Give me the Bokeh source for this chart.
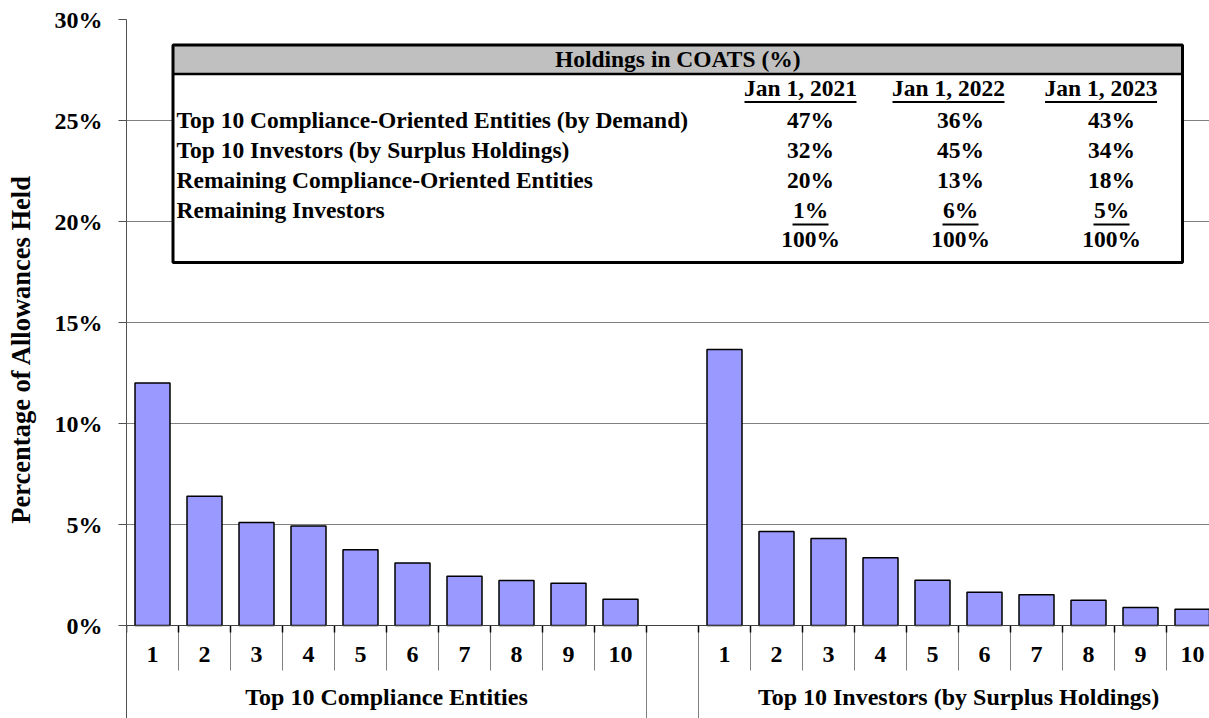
from bokeh.plotting import figure
from bokeh.models import Range1d, FixedTicker, PrintfTickFormatter, Span
from bokeh.core.properties import value
from bokeh.embed import file_html
from bokeh.resources import INLINE

# ---------------- data ----------------
compliance_labels = ["1", "2", "3", "4", "5", "6", "7", "8", "9", "10"]
compliance_values = [12.0, 6.4, 5.1, 4.93, 3.75, 3.1, 2.44, 2.23, 2.09, 1.3]
investor_labels = ["1", "2", "3", "4", "5", "6", "7", "8", "9", "10"]
investor_values = [13.66, 4.65, 4.31, 3.35, 2.24, 1.65, 1.52, 1.25, 0.89, 0.81]
group_names = ["Top 10 Compliance Entities", "Top 10 Investors (by Surplus Holdings)"]
y_ticks = [0, 5, 10, 15, 20, 25, 30]

table_title = "Holdings in COATS (%)"
table_rows = ["Top 10 Compliance-Oriented Entities (by Demand)",
              "Top 10 Investors (by Surplus Holdings)",
              "Remaining Compliance-Oriented Entities",
              "Remaining Investors"]
table_dates = ["Jan 1, 2021", "Jan 1, 2022", "Jan 1, 2023"]
holdings_2021 = [47, 32, 20, 1]
holdings_2022 = [36, 45, 13, 6]
holdings_2023 = [43, 34, 18, 5]

# ---------------- layout helpers (picture px -> data) ----------------
W, H = 1209, 718
X0_PX, SLOT_PX, Y0_PX, PCT_PX = 126.0, 52.0, 625.0, 20.2
TXT_DY = 9.5  # rendered alphabetic baseline sits this much lower than asked
def xd(px):
    return (px - X0_PX) / SLOT_PX
def yd(py):
    return (Y0_PX - py) / PCT_PX
def yt_(py):  # y for a text whose baseline should land at py
    return yd(py - TXT_DY)

FONT = value("Liberation Serif")
FS = "23.5px"

p = figure(width=W, height=H, output_backend="svg", toolbar_location=None,
           x_range=Range1d(0, xd(W)), y_range=Range1d(yd(H), yd(19)),
           min_border_left=int(X0_PX), min_border_right=0, min_border_top=19, min_border_bottom=0)
p.outline_line_color = None
p.background_fill_color = "white"
p.border_fill_color = "white"
p.xaxis.visible = False
p.xgrid.visible = False

yt = FixedTicker(ticks=y_ticks, minor_ticks=[])
p.yaxis.ticker = yt
p.yaxis.formatter = PrintfTickFormatter(format="%d%%")
p.yaxis.major_label_text_font = "Liberation Serif"
p.yaxis.major_label_text_font_style = "bold"
p.yaxis.major_label_text_font_size = "24px"
p.yaxis.major_label_text_color = "black"
p.yaxis.major_label_standoff = 16
p.yaxis.major_tick_out = 8
p.yaxis.major_tick_in = 0
p.yaxis.minor_tick_line_color = None
p.yaxis.axis_line_color = "#505050"
p.yaxis.major_tick_line_color = "#505050"
p.yaxis.axis_label = "\u00a0" * 6 + "Percentage of Allowances Held"
p.yaxis.axis_label_text_font = "Liberation Serif"
p.yaxis.axis_label_text_font_style = "bold"
p.yaxis.axis_label_text_font_size = "26.5px"
p.yaxis.axis_label_text_color = "black"
p.yaxis.axis_label_standoff = 16
p.ygrid.ticker = yt
p.ygrid.grid_line_color = "#808080"
p.ygrid.grid_line_width = 1

# ---------------- bars ----------------
n_c = len(compliance_values)
gap = 1
bar_w = 35.0 / SLOT_PX
xs_c = [i + 0.5 for i in range(n_c)]
xs_i = [n_c + gap + i + 0.5 for i in range(len(investor_values))]
p.vbar(x=xs_c + xs_i, top=compliance_values + investor_values, bottom=0, width=bar_w,
       fill_color="#9999FF", line_color="black", line_width=1.5)

p.add_layout(Span(location=0, dimension="width", line_color="#404040", line_width=1.2))

# ---------------- category axis (drawn below zero) ----------------
n_slots = n_c + gap + len(investor_values)
group_bounds = [0, n_c, n_c + gap, n_slots]
inner_bounds = [b for b in range(1, n_slots) if b not in group_bounds]
p.segment(x0=inner_bounds, y0=[0] * len(inner_bounds), x1=inner_bounds,
          y1=[yd(670)] * len(inner_bounds), line_color="#808080", line_width=1)
p.segment(x0=group_bounds, y0=[0] * 4, x1=group_bounds, y1=[yd(H + 2)] * 4,
          line_color="#808080", line_width=1)
all_b = list(range(0, n_slots + 1))
p.segment(x0=all_b, y0=[0] * len(all_b), x1=all_b, y1=[yd(632)] * len(all_b),
          line_color="black", line_width=1.5)

p.text(x=xs_c + xs_i, y=[yt_(663)] * (n_c + len(investor_values)),
       text=compliance_labels + investor_labels, text_font=FONT, text_font_style="bold",
       text_font_size="24px", text_align="center", text_baseline="alphabetic", text_color="black")
p.text(x=[n_c / 2, n_c + gap + len(investor_values) / 2], y=[yt_(706)] * 2, text=group_names,
       text_font=FONT, text_font_style="bold", text_font_size="24px",
       text_align="center", text_baseline="alphabetic", text_color="black")

# ---------------- table ----------------
T_L, T_R, T_T, T_B, T_H = 172.5, 1182.0, 44.5, 262.0, 73.5
p.quad(left=[xd(T_L)], right=[xd(T_R)], top=[yd(T_T)], bottom=[yd(T_B)],
       fill_color="white", line_color=None)
p.quad(left=[xd(T_L)], right=[xd(T_R)], top=[yd(T_T)], bottom=[yd(T_H)],
       fill_color="#C0C0C0", line_color=None)
p.segment(x0=[xd(T_L)], y0=[yd(T_H)], x1=[xd(T_R)], y1=[yd(T_H)], line_color="black", line_width=2.5)
p.quad(left=[xd(T_L)], right=[xd(T_R)], top=[yd(T_T)], bottom=[yd(T_B)],
       fill_color=None, line_color="black", line_width=3)

p.text(x=[xd((T_L + T_R) / 2)], y=[yt_(68)], text=[table_title], text_font=FONT,
       text_font_style="bold", text_font_size=FS, text_align="center", text_baseline="alphabetic")

row_base = [129, 159, 189, 219]
total_base = 248
date_base = 97
p.text(x=[xd(176)] * len(table_rows), y=[yt_(b) for b in row_base], text=table_rows,
       text_font=FONT, text_font_style="bold", text_font_size=FS,
       text_align="left", text_baseline="alphabetic")

date_cx = [800, 948, 1100.5]
val_cx = [810, 960, 1111]
p.text(x=[xd(c) for c in date_cx], y=[yt_(date_base)] * 3, text=table_dates,
       text_font=FONT, text_font_style="bold", text_font_size=FS,
       text_align="center", text_baseline="alphabetic")
p.segment(x0=[xd(c - 56) for c in date_cx], y0=[yd(date_base + 4.5)] * 3,
          x1=[xd(c + 56) for c in date_cx], y1=[yd(date_base + 4.5)] * 3,
          line_color="black", line_width=2)

cols = [holdings_2021, holdings_2022, holdings_2023]
vx, vy, vt = [], [], []
for cx, col in zip(val_cx, cols):
    for b, v in zip(row_base, col):
        vx.append(xd(cx)); vy.append(yt_(b)); vt.append(f"{v}%")
    vx.append(xd(cx)); vy.append(yt_(total_base)); vt.append(f"{sum(col)}%")
p.text(x=vx, y=vy, text=vt, text_font=FONT, text_font_style="bold", text_font_size=FS,
       text_align="center", text_baseline="alphabetic")
p.segment(x0=[xd(c - 18) for c in val_cx], y0=[yd(row_base[-1] + 5)] * 3,
          x1=[xd(c + 18) for c in val_cx], y1=[yd(row_base[-1] + 5)] * 3,
          line_color="black", line_width=2)

open("out.html", "w").write(file_html(p, INLINE))
